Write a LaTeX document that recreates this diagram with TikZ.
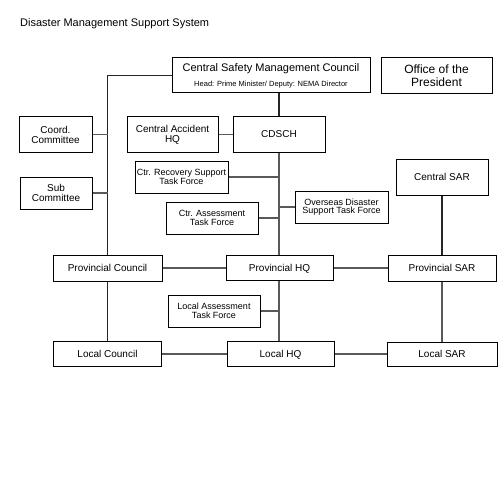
\documentclass[tikz,border=0pt]{standalone}
\usepackage{fontspec}
\setmainfont{Liberation Sans}
\usetikzlibrary{positioning}

\tikzset{
  unit/.style={draw=black, line width=1pt, fill=white, inner sep=0pt, align=center},
  big/.style={font=\fontsize{10}{10}\selectfont},
  one/.style={big, text depth=0pt},
  small/.style={font=\fontsize{9}{8.5}\selectfont},
  link/.style={draw=gray!70!black, line width=1.1pt},
  mainlink/.style={draw=black!85, line width=1.1pt}
}

\begin{document}
\begin{tikzpicture}[x=1pt, y=-1pt]
			\useasboundingbox (0,0) rectangle (500,500);
			% Title
			\node[anchor=west, inner sep=0pt, font=\fontsize{11}{11}\selectfont] (title) at (20,24) {Disaster Management Support System};
			% Central level
			\node[unit, minimum width=198, minimum height=35] (council) at (271,75.5)
				{\fontsize{11}{11}\selectfont Central Safety Management Council\\[3pt]\fontsize{7.5}{8}\selectfont Head: Prime Minister/ Deputy: NEMA Director};
			\node[unit, minimum width=111, minimum height=36, font=\fontsize{12}{13}\selectfont] (president) at (436.5,76) {Office of the\\President};
			\node[unit, big, minimum width=73, minimum height=35] (coord) at (55.5,134.5) {Coord.\\Committee};
			\node[unit, big, minimum width=72, minimum height=32] (sub) at (56,193) {Sub\\Committee};
			\node[unit, big, minimum width=91, minimum height=35] (accident) at (172.5,134.5) {Central Accident\\HQ};
			\node[unit, one, minimum width=92, minimum height=35] (cdsch) at (279,134.5) {CDSCH};
			\node[unit, one, minimum width=92, minimum height=36] (centralsar) at (442,177) {Central SAR};
			% Task forces
			\node[unit, small, minimum width=93, minimum height=32] (recovery) at (181.5,177) {Ctr. Recovery Support\\Task Force};
			\node[unit, small, minimum width=92, minimum height=32] (assess) at (212,218) {Ctr. Assessment\\Task Force};
			\node[unit, small, minimum width=93, minimum height=32] (overseas) at (341.5,207) {Overseas Disaster\\Support Task Force};
			% Provincial level
			\node[unit, one, minimum width=109, minimum height=26] (provcouncil) at (107.5,268) {Provincial Council};
			\node[unit, one, minimum width=107, minimum height=25] (provhq) at (279.5,268) {Provincial HQ};
			\node[unit, one, minimum width=108, minimum height=26] (provsar) at (442,268) {Provincial SAR};
			\node[unit, small, minimum width=92, minimum height=32] (localassess) at (214,311) {Local Assessment\\Task Force};
			% Local level
			\node[unit, one, minimum width=108, minimum height=25] (localcouncil) at (107.5,354) {Local Council};
			\node[unit, one, minimum width=107, minimum height=25] (localhq) at (280.5,354) {Local HQ};
			\node[unit, one, minimum width=110, minimum height=24] (localsar) at (442,354) {Local SAR};
			% Council side
			\draw[mainlink] (council.west) -| (provcouncil.north);
			\foreach \n in {coord, sub} {
					\draw[link] (\n.east) -- (\n.east -| provcouncil.north);
				}
			\draw[mainlink] (provcouncil.south) -- (localcouncil.north);
			% Headquarters spine
			\draw[mainlink] (cdsch.north) -- (cdsch.north |- council.south);
			\draw[link] (accident.east) -- (cdsch.west);
			\draw[link] (cdsch.south) -- (cdsch.south |- provhq.north);
			\foreach \n in {recovery, assess} {
					\draw[link] (\n.east) -- (\n.east -| cdsch.south);
				}
			\draw[link] (overseas.west) -- (overseas.west -| cdsch.south);
			\draw[link] (provhq.south -| cdsch.south) -- (localhq.north -| cdsch.south);
			\draw[link] (localassess.east) -- (localassess.east -| cdsch.south);
			% Search and rescue
			\draw[mainlink] (centralsar.south) -- (provsar.north);
			\draw[link] (provsar.south) -- (localsar.north);
			% Across the levels
			\draw[link] (provcouncil.east) -- (provhq.west);
			\draw[link] (provhq.east) -- (provsar.west);
			\draw[link] (localcouncil.east) -- (localhq.west);
			\draw[link] (localhq.east) -- (localsar.west);
		\end{tikzpicture}
\end{document}
